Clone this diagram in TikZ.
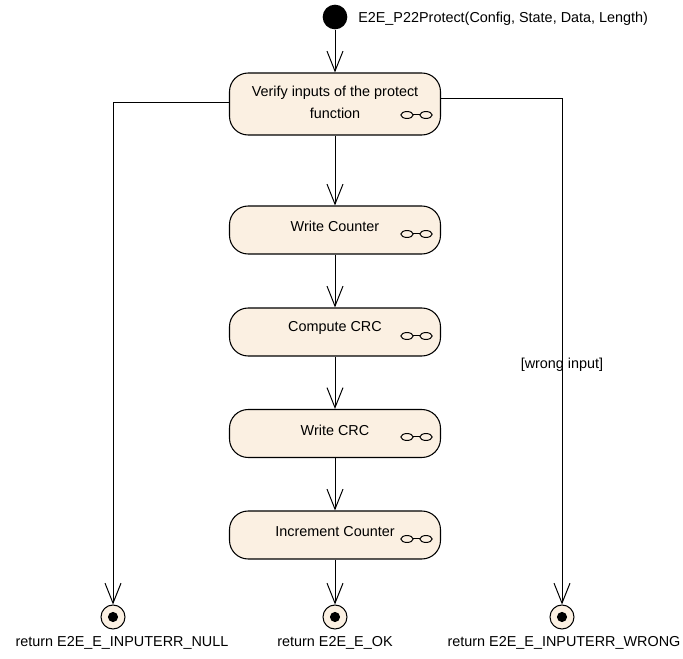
\documentclass[tikz,border=0pt]{standalone}
\usepackage{fontspec}
\setmainfont{Liberation Sans}
\usetikzlibrary{arrows.meta}
\definecolor{actfill}{RGB}{251,240,226}
\tikzset{
  flow/.style={draw, line width=0.75pt, -{Straight Barb[length=15pt,width=12pt,line width=0.75pt]}},
  action/.style={draw, line width=0.8pt, fill=actfill, rounded corners=14pt,
    minimum width=158.25pt, inner sep=0pt},
  txt/.style={inner sep=0pt, font=\fontsize{10.8}{15}\selectfont, align=center},
  rake/.pic={
    \draw[line width=0.75pt] (-9.5,0) ellipse [x radius=4.6pt, y radius=2.6pt];
    \draw[line width=0.75pt] (9.5,0) ellipse [x radius=4.6pt, y radius=2.6pt];
    \draw[line width=0.75pt] (-3.4,0) -- (3.4,0);
  }
}
\begin{document}
\begin{tikzpicture}[x=0.75pt,y=-0.75pt]
\useasboundingbox (0,0) rectangle (683,659);
% start
\node[circle, fill=black, minimum size=18.5pt, inner sep=0pt] (start) at (335,17) {};
\node[txt, anchor=west] (startlbl) at (358,19) {E2E\_P22Protect(Config, State, Data, Length)};
% actions
\node[action, minimum height=46.5pt] (b1) at (335,104) {};
\node[action, minimum height=36pt] (b2) at (335,230) {};
\node[action, minimum height=36pt] (b3) at (335,332) {};
\node[action, minimum height=36pt] (b4) at (335,433.5) {};
\node[action, minimum height=36pt] (b5) at (335,535) {};
\node[txt] (t1a) at (335,93) {Verify inputs of the protect};
\node[txt] (t1b) at (335,113) {function};
\node[txt] (t2) at (335,226) {Write Counter};
\node[txt] (t3) at (335,328) {Compute CRC};
\node[txt] (t4) at (335,430) {Write CRC};
\node[txt] (t5) at (335,532) {Increment Counter};
\pic at (416.5,115) {rake};
\pic at (416.5,234) {rake};
\pic at (416.5,336) {rake};
\pic at (416.5,437) {rake};
\pic at (416.5,539) {rake};
% finals
\foreach \n/\x in {endL/113, endM/335, endR/562}{
  \node[circle, draw, line width=0.75pt, fill=actfill, minimum size=18pt, inner sep=0pt] (\n) at (\x,617) {};
  \fill[black] (\n.center) circle [radius=3.8pt];
}
\node[txt] (lL) at (122,643) {return E2E\_E\_INPUTERR\_NULL};
\node[txt] (lM) at (335,643) {return E2E\_E\_OK};
\node[txt] (lR) at (564,643) {return E2E\_E\_INPUTERR\_WRONG};
% flows
\draw[flow] (start) -- (b1);
\draw[flow] (b1) -- (b2);
\draw[flow] (b2) -- (b3);
\draw[flow] (b3) -- (b4);
\draw[flow] (b4) -- (b5);
\draw[flow] (b5) -- (endM);
\draw[flow] ([yshift=0.75pt]b1.west) -| (endL);
\draw[flow] ([yshift=3.75pt]b1.east) -| (endR);
\node[txt] (guard) at (562,365) {[wrong input]};
\end{tikzpicture}
\end{document}
